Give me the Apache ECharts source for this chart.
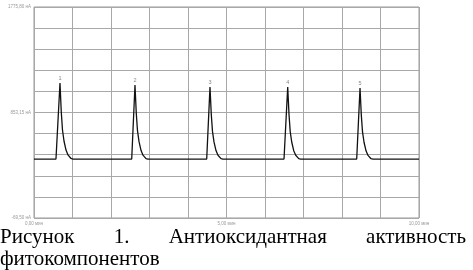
<!DOCTYPE html>
<html><head><meta charset="utf-8">
<script src="https://cdn.jsdelivr.net/npm/echarts@6/dist/echarts.min.js"></script>
<style>html,body{margin:0;padding:0;background:#fff}#c{width:473px;height:270px}</style>
</head><body><div id="c"></div>
<script>
// time axis (min) and signal (нА)
const baseTime = [0, 10];
const baseLevel = 446;
const peakNames = ['1', '2', '3', '4', '5'];
const peak1T = [0.571, 0.675, 0.709, 0.740, 0.779, 0.831, 0.883, 0.961, 1.013];
const peak1V = [446, 1111, 855, 700, 604, 525, 482, 451, 446];
const peak2T = [2.538, 2.623, 2.657, 2.688, 2.727, 2.779, 2.831, 2.909, 2.961];
const peak2V = [446, 1094, 845, 694, 600, 522, 480, 450, 446];
const peak3T = [4.486, 4.571, 4.605, 4.636, 4.675, 4.727, 4.779, 4.857, 4.909];
const peak3V = [446, 1076, 835, 688, 596, 520, 479, 450, 446];
const peak4T = [6.494, 6.590, 6.624, 6.655, 6.694, 6.746, 6.798, 6.876, 6.928];
const peak4V = [446, 1076, 833, 686, 595, 519, 479, 450, 446];
const peak5T = [8.382, 8.468, 8.502, 8.533, 8.572, 8.624, 8.676, 8.754, 8.806];
const peak5V = [446, 1067, 828, 683, 593, 518, 478, 449, 446];
const yMin = -69.5, yMax = 1775.8;
const yTickLabels = {0: '-69,50 нА', 5: '853,15 нА', 10: '1775,80 нА'};
const xTickLabels = {0: '0,00 мин', 5: '5,00 мин', 10: '10,00 мин'};
const captionLine1 = ['Рисунок', '1.', 'Антиоксидантная', 'активность'];
const captionLine2 = 'фитокомпонентов';

const peaksT = [peak1T, peak2T, peak3T, peak4T, peak5T];
const peaksV = [peak1V, peak2V, peak3V, peak4V, peak5V];
const data = [[baseTime[0], baseLevel]];
const tops = [];
peaksT.forEach((ts, p) => {
  ts.forEach((t, i) => data.push([t, peaksV[p][i]]));
  tops.push({value: [ts[1], peaksV[p][1]], name: peakNames[p]});
});
data.push([baseTime[1], baseLevel]);

// caption layout (justified first line)
const FONT = "21px 'Liberation Serif'";
const ctx = document.createElement('canvas').getContext('2d');
ctx.font = FONT;
const widths = captionLine1.map(w => ctx.measureText(w).width);
const right = 466;
const gap = (right - widths.reduce((a, b) => a + b, 0)) / (captionLine1.length - 1);
let cx = 0;
const graphics = [];
captionLine1.forEach((w, i) => {
  graphics.push({type: 'text', left: cx, top: 227, style: {text: w, font: FONT, fill: '#000'}});
  cx += widths[i] + gap;
});
graphics.push({type: 'text', left: 0, top: 249, style: {text: captionLine2, font: FONT, fill: '#000'}});

const chart = echarts.init(document.getElementById('c'), null, {renderer: 'canvas'});
chart.setOption({
  animation: false,
  backgroundColor: '#fff',
  grid: {left: 34, right: 54, top: 7, bottom: 52, show: true, borderColor: '#999', borderWidth: 1},
  xAxis: {
    type: 'value', min: 0, max: 10, interval: 1,
    axisLine: {show: false}, axisTick: {show: false},
    splitLine: {show: true, lineStyle: {color: '#a8a8a8', width: 1}},
    axisLabel: {show: true, fontSize: 4.5, color: '#999', margin: 3,
      formatter: (v) => { const k = Math.round(v); return Math.abs(v - k) < 1e-6 && xTickLabels[k] ? xTickLabels[k] : ''; }}
  },
  yAxis: {
    type: 'value', min: yMin, max: yMax, interval: (yMax - yMin) / 10,
    axisLine: {show: false}, axisTick: {show: false},
    splitLine: {show: true, lineStyle: {color: '#a8a8a8', width: 1}},
    axisLabel: {show: true, fontSize: 4.5, color: '#999', margin: 3,
      formatter: (v) => { const k = Math.round((v - yMin) / ((yMax - yMin) / 10)); return yTickLabels[k] || ''; }}
  },
  series: [{
    type: 'line', data: data, showSymbol: false, symbol: 'none',
    lineStyle: {color: '#111', width: 1.3}, silent: true
  }, {
    type: 'scatter', data: tops, symbolSize: 1, silent: true,
    itemStyle: {color: 'rgba(0,0,0,0)'},
    label: {show: true, position: 'top', distance: 1, fontSize: 5.5, color: '#666', formatter: (p) => p.name}
  }],
  graphic: graphics
});
</script></body></html>
